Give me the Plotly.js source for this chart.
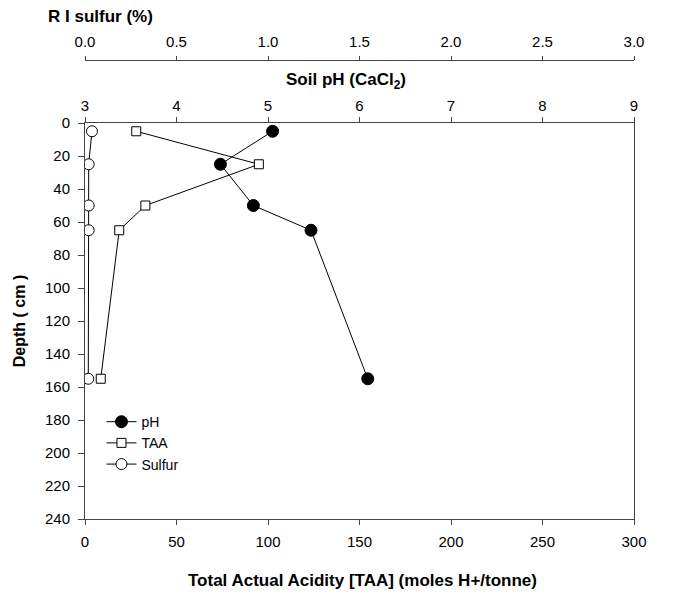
<!DOCTYPE html>
<html>
<head>
<meta charset="utf-8">
<script src="https://cdn.plot.ly/plotly-3.0.1.min.js"></script>
<style>html,body{margin:0;padding:0;background:#fff;}#chart{width:676px;height:594px;}</style>
</head>
<body>
<div id="chart"></div>
<script>
var depth = [5, 25, 50, 65, 155];
var phValues = [5.05, 4.48, 4.84, 5.47, 6.09];
var taaValues = [28, 95, 33, 18.7, 8.6];
var sulfurValues = [0.038, 0.02, 0.02, 0.02, 0.018];
var seriesNames = ['pH', 'TAA', 'Sulfur'];

var FONT = 'Liberation Sans, Arial, sans-serif';
var axisColor = '#444';

var traces = [
  {x: phValues, y: depth, name: seriesNames[0], xaxis: 'x2', yaxis: 'y', mode: 'lines+markers',
   line: {color: '#000', width: 1}, marker: {symbol: 'circle', size: 12, color: '#000', line: {color: '#000', width: 1}}},
  {x: taaValues, y: depth, name: seriesNames[1], xaxis: 'x', yaxis: 'y', mode: 'lines+markers',
   line: {color: '#000', width: 1}, marker: {symbol: 'square', size: 9, color: '#fff', line: {color: '#000', width: 1}}},
  {x: sulfurValues, y: depth, name: seriesNames[2], xaxis: 'x3', yaxis: 'y', mode: 'lines+markers',
   line: {color: '#000', width: 1}, marker: {symbol: 'circle', size: 11, color: '#fff', line: {color: '#000', width: 1}}}
];

var tickFont = {family: FONT, size: 15, color: '#000'};
var titleFont = {family: FONT, size: 17, color: '#000'};
var layout = {
  width: 676, height: 594,
  margin: {l: 85, r: 42, t: 60, b: 75},
  paper_bgcolor: '#fff', plot_bgcolor: '#fff',
  font: {family: FONT, size: 15, color: '#000'},
  showlegend: true,
  legend: {x: 0.03, y: 0.246, xanchor: 'left', yanchor: 'top', bgcolor: 'rgba(0,0,0,0)',
           font: {family: FONT, size: 14, color: '#000'}, tracegroupgap: 0, itemwidth: 30},
  xaxis: {range: [0, 300], dtick: 50, side: 'bottom', anchor: 'y', showgrid: false, zeroline: false,
          showline: true, linecolor: axisColor, linewidth: 1, ticks: 'outside', ticklen: 5, tickcolor: axisColor,
          tickfont: tickFont, ticklabelstandoff: 4},
  xaxis2: {range: [3, 9], dtick: 1, side: 'top', anchor: 'y', overlaying: 'x', showgrid: false, zeroline: false,
           showline: true, linecolor: axisColor, linewidth: 1, ticks: 'outside', ticklen: 5, tickcolor: axisColor,
           tickfont: tickFont},
  xaxis3: {range: [0, 3], dtick: 0.5, tickformat: '.1f', side: 'top', anchor: 'free', position: 1, overlaying: 'x',
           showgrid: false, zeroline: false, showline: true, linecolor: axisColor, linewidth: 1,
           ticks: 'outside', ticklen: 4, tickcolor: axisColor, tickfont: tickFont, ticklabelstandoff: 3},
  yaxis: {range: [240, 0], dtick: 20, domain: [0, 0.8627], showgrid: false, zeroline: false,
          showline: true, mirror: true, linecolor: axisColor, linewidth: 1, ticks: 'outside', ticklen: 6,
          tickcolor: axisColor, tickfont: tickFont, ticklabelstandoff: 5},
  annotations: [
    {text: '<b>R I sulfur (%)</b>', xref: 'paper', yref: 'paper', x: -0.071, y: 1.0937, xanchor: 'left', yanchor: 'middle',
     showarrow: false, font: titleFont},
    {text: '<b>Soil pH (CaCl<sub>2</sub>)</b>', xref: 'paper', yref: 'paper', x: 0.362, y: 0.9542, xanchor: 'left', yanchor: 'middle',
     showarrow: false, font: titleFont},
    {text: '<b>Total Actual Acidity [TAA] (moles H+/tonne)</b>', xref: 'paper', yref: 'paper', x: 0.506, y: -0.1329,
     xanchor: 'center', yanchor: 'middle', showarrow: false, font: titleFont},
    {text: '<b>Depth ( cm )</b>', xref: 'paper', yref: 'paper', x: -0.1202, y: 0.431, xanchor: 'center', yanchor: 'middle',
     textangle: -90, showarrow: false, font: {family: FONT, size: 16, color: '#000'}}
  ]
};

Plotly.newPlot('chart', traces, layout, {displayModeBar: false, staticPlot: true});
</script>
</body>
</html>
